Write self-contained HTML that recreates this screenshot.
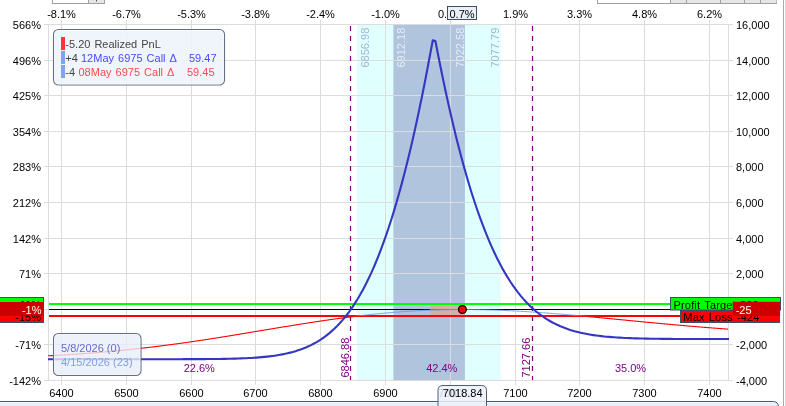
<!DOCTYPE html>
<html><head><meta charset="utf-8"><style>
html,body{margin:0;padding:0;background:#fff;}
body{width:786px;height:406px;overflow:hidden;position:relative;}
svg{position:absolute;left:0;top:0;will-change:transform;}
text{font-family:"Liberation Sans", sans-serif;font-size:11px;}
</style></head><body>
<svg width="786" height="406" viewBox="0 0 786 406">
<defs>
<clipPath id="plot"><rect x="48" y="24" width="681" height="357"/></clipPath>
<clipPath id="above"><rect x="48" y="0" width="681" height="316.3"/></clipPath>
<clipPath id="below"><rect x="48" y="316.3" width="681" height="100"/></clipPath>
</defs>
<rect x="0" y="0" width="786" height="406" fill="#fff"/>

<rect x="52.5" y="-4.5" width="52" height="8" fill="#fff" stroke="#a0a0a0" stroke-width="1"/>
<rect x="89" y="-4" width="15" height="7" fill="#e6e6e6"/>
<line x1="88.5" y1="-4" x2="88.5" y2="3" stroke="#a0a0a0"/>
<rect x="96" y="0" width="1" height="1.5" fill="#555"/>
<rect x="597.5" y="-4.5" width="179" height="8" fill="#fff" stroke="#a0a0a0" stroke-width="1"/>
<rect x="670.5" y="-4" width="16.0" height="7" fill="#e6e6e6"/>
<line x1="670.5" y1="-4" x2="670.5" y2="3" stroke="#a0a0a0"/>
<rect x="686.5" y="-4" width="34.0" height="7" fill="#e6e6e6"/>
<line x1="686.5" y1="-4" x2="686.5" y2="3" stroke="#a0a0a0"/>
<rect x="720.5" y="-4" width="24.0" height="7" fill="#e6e6e6"/>
<line x1="720.5" y1="-4" x2="720.5" y2="3" stroke="#a0a0a0"/>
<rect x="744.5" y="-4" width="16.0" height="7" fill="#e6e6e6"/>
<line x1="744.5" y1="-4" x2="744.5" y2="3" stroke="#a0a0a0"/>
<rect x="760.5" y="-4" width="16.0" height="7" fill="#e6e6e6"/>
<line x1="760.5" y1="-4" x2="760.5" y2="3" stroke="#a0a0a0"/>
<rect x="783" y="0" width="1" height="406" fill="#aaaaaa"/>
<rect x="785" y="0" width="1" height="406" fill="#d8d8d8"/>
<rect x="357" y="24" width="143.7" height="356.5" fill="#e0ffff"/>
<rect x="393.4" y="24" width="71.5" height="356.5" fill="#b0c4de"/>
<line x1="44" y1="24.5" x2="733" y2="24.5" stroke="#dcdcdc"/>
<line x1="44" y1="60.5" x2="733" y2="60.5" stroke="#dcdcdc"/>
<line x1="44" y1="95.5" x2="733" y2="95.5" stroke="#dcdcdc"/>
<line x1="44" y1="131.5" x2="733" y2="131.5" stroke="#dcdcdc"/>
<line x1="44" y1="166.5" x2="733" y2="166.5" stroke="#dcdcdc"/>
<line x1="44" y1="202.5" x2="733" y2="202.5" stroke="#dcdcdc"/>
<line x1="44" y1="238.5" x2="733" y2="238.5" stroke="#dcdcdc"/>
<line x1="44" y1="273.5" x2="733" y2="273.5" stroke="#dcdcdc"/>
<line x1="44" y1="309.5" x2="733" y2="309.5" stroke="#dcdcdc"/>
<line x1="44" y1="344.5" x2="733" y2="344.5" stroke="#dcdcdc"/>
<line x1="44" y1="380.5" x2="733" y2="380.5" stroke="#dcdcdc"/>
<line x1="61.5" y1="20" x2="61.5" y2="385" stroke="#dcdcdc"/>
<line x1="126.5" y1="20" x2="126.5" y2="385" stroke="#dcdcdc"/>
<line x1="191.5" y1="20" x2="191.5" y2="385" stroke="#dcdcdc"/>
<line x1="255.5" y1="20" x2="255.5" y2="385" stroke="#dcdcdc"/>
<line x1="320.5" y1="20" x2="320.5" y2="385" stroke="#dcdcdc"/>
<line x1="385.5" y1="20" x2="385.5" y2="385" stroke="#dcdcdc"/>
<line x1="450.5" y1="20" x2="450.5" y2="385" stroke="#dcdcdc"/>
<line x1="515.5" y1="20" x2="515.5" y2="385" stroke="#dcdcdc"/>
<line x1="579.5" y1="20" x2="579.5" y2="385" stroke="#dcdcdc"/>
<line x1="644.5" y1="20" x2="644.5" y2="385" stroke="#dcdcdc"/>
<line x1="709.5" y1="20" x2="709.5" y2="385" stroke="#dcdcdc"/>
<line x1="48.5" y1="24" x2="48.5" y2="381" stroke="#dcdcdc"/>
<line x1="728.5" y1="24" x2="728.5" y2="381" stroke="#dcdcdc"/>
<text transform="translate(368.8,67.5) rotate(-90)" fill="#a4b4d2" text-anchor="start">6856.98</text>
<text transform="translate(404.9,67.5) rotate(-90)" fill="#e4ecf6" text-anchor="start">6912.18</text>
<text transform="translate(463.8,67.5) rotate(-90)" fill="#e4ecf6" text-anchor="start">7022.58</text>
<text transform="translate(499.3,67.5) rotate(-90)" fill="#a4b4d2" text-anchor="start">7077.79</text>
<line x1="350.5" y1="24" x2="350.5" y2="380" stroke="#800080" stroke-width="1.25" stroke-dasharray="5,5" stroke-dashoffset="-2"/>
<line x1="532.5" y1="24" x2="532.5" y2="380" stroke="#800080" stroke-width="1.25" stroke-dasharray="5,5" stroke-dashoffset="-2"/>
<text transform="translate(349,377.5) rotate(-90)" fill="#800080" text-anchor="start">6846.88</text>
<text transform="translate(529.6,377.5) rotate(-90)" fill="#800080" text-anchor="start">7127.66</text>
<line x1="49" y1="309.5" x2="728" y2="309.5" stroke="#000" stroke-width="1"/>
<rect x="430.3" y="305" width="32.1" height="10" fill="#efa17c" fill-opacity="0.6"/>
<line x1="49" y1="304" x2="728" y2="304" stroke="#00ff00" stroke-width="2"/>
<line x1="49" y1="316" x2="728" y2="316" stroke="#ff0000" stroke-width="2"/>
<g clip-path="url(#plot)"><path d="M48.00,355.82 L48.50,355.79 L49.00,355.76 L49.50,355.74 L50.00,355.71 L50.50,355.69 L51.00,355.66 L51.50,355.63 L52.00,355.61 L52.50,355.58 L53.00,355.55 L53.50,355.52 L54.00,355.50 L54.50,355.47 L55.00,355.44 L55.50,355.41 L56.00,355.39 L56.50,355.36 L57.00,355.33 L57.50,355.30 L58.00,355.27 L58.50,355.24 L59.00,355.22 L59.50,355.19 L60.00,355.16 L60.50,355.13 L61.00,355.10 L61.50,355.07 L62.00,355.04 L62.50,355.01 L63.00,354.98 L63.50,354.95 L64.00,354.92 L64.50,354.89 L65.00,354.86 L65.50,354.83 L66.00,354.80 L66.50,354.77 L67.00,354.74 L67.50,354.70 L68.00,354.67 L68.50,354.64 L69.00,354.61 L69.50,354.58 L70.00,354.55 L70.50,354.51 L71.00,354.48 L71.50,354.45 L72.00,354.42 L72.50,354.38 L73.00,354.35 L73.50,354.32 L74.00,354.28 L74.50,354.25 L75.00,354.22 L75.50,354.18 L76.00,354.15 L76.50,354.11 L77.00,354.08 L77.50,354.05 L78.00,354.01 L78.50,353.98 L79.00,353.94 L79.50,353.91 L80.00,353.87 L80.50,353.84 L81.00,353.80 L81.50,353.77 L82.00,353.73 L82.50,353.69 L83.00,353.66 L83.50,353.62 L84.00,353.58 L84.50,353.55 L85.00,353.51 L85.50,353.47 L86.00,353.44 L86.50,353.40 L87.00,353.36 L87.50,353.32 L88.00,353.29 L88.50,353.25 L89.00,353.21 L89.50,353.17 L90.00,353.13 L90.50,353.10 L91.00,353.06 L91.50,353.02 L92.00,352.98 L92.50,352.94 L93.00,352.90 L93.50,352.86 L94.00,352.82 L94.50,352.78 L95.00,352.74 L95.50,352.70 L96.00,352.66 L96.50,352.62 L97.00,352.58 L97.50,352.54 L98.00,352.50 L98.50,352.45 L99.00,352.41 L99.50,352.37 L100.00,352.33 L100.50,352.29 L101.00,352.24 L101.50,352.20 L102.00,352.16 L102.50,352.12 L103.00,352.07 L103.50,352.03 L104.00,351.99 L104.50,351.94 L105.00,351.90 L105.50,351.86 L106.00,351.81 L106.50,351.77 L107.00,351.72 L107.50,351.68 L108.00,351.64 L108.50,351.59 L109.00,351.55 L109.50,351.50 L110.00,351.46 L110.50,351.41 L111.00,351.36 L111.50,351.32 L112.00,351.27 L112.50,351.23 L113.00,351.18 L113.50,351.13 L114.00,351.09 L114.50,351.04 L115.00,350.99 L115.50,350.94 L116.00,350.90 L116.50,350.85 L117.00,350.80 L117.50,350.75 L118.00,350.71 L118.50,350.66 L119.00,350.61 L119.50,350.56 L120.00,350.51 L120.50,350.46 L121.00,350.41 L121.50,350.36 L122.00,350.31 L122.50,350.26 L123.00,350.21 L123.50,350.16 L124.00,350.11 L124.50,350.06 L125.00,350.01 L125.50,349.96 L126.00,349.91 L126.50,349.86 L127.00,349.81 L127.50,349.76 L128.00,349.70 L128.50,349.65 L129.00,349.60 L129.50,349.55 L130.00,349.50 L130.50,349.44 L131.00,349.39 L131.50,349.34 L132.00,349.28 L132.50,349.23 L133.00,349.18 L133.50,349.12 L134.00,349.07 L134.50,349.02 L135.00,348.96 L135.50,348.91 L136.00,348.85 L136.50,348.80 L137.00,348.74 L137.50,348.69 L138.00,348.63 L138.50,348.58 L139.00,348.52 L139.50,348.47 L140.00,348.41 L140.50,348.35 L141.00,348.30 L141.50,348.24 L142.00,348.18 L142.50,348.13 L143.00,348.07 L143.50,348.01 L144.00,347.96 L144.50,347.90 L145.00,347.84 L145.50,347.78 L146.00,347.72 L146.50,347.67 L147.00,347.61 L147.50,347.55 L148.00,347.49 L148.50,347.43 L149.00,347.37 L149.50,347.31 L150.00,347.25 L150.50,347.19 L151.00,347.13 L151.50,347.07 L152.00,347.01 L152.50,346.95 L153.00,346.89 L153.50,346.83 L154.00,346.77 L154.50,346.71 L155.00,346.65 L155.50,346.59 L156.00,346.53 L156.50,346.46 L157.00,346.40 L157.50,346.34 L158.00,346.28 L158.50,346.22 L159.00,346.15 L159.50,346.09 L160.00,346.03 L160.50,345.96 L161.00,345.90 L161.50,345.84 L162.00,345.77 L162.50,345.71 L163.00,345.65 L163.50,345.58 L164.00,345.52 L164.50,345.45 L165.00,345.39 L165.50,345.32 L166.00,345.26 L166.50,345.19 L167.00,345.13 L167.50,345.06 L168.00,345.00 L168.50,344.93 L169.00,344.87 L169.50,344.80 L170.00,344.73 L170.50,344.67 L171.00,344.60 L171.50,344.53 L172.00,344.47 L172.50,344.40 L173.00,344.33 L173.50,344.26 L174.00,344.20 L174.50,344.13 L175.00,344.06 L175.50,343.99 L176.00,343.93 L176.50,343.86 L177.00,343.79 L177.50,343.72 L178.00,343.65 L178.50,343.58 L179.00,343.51 L179.50,343.44 L180.00,343.37 L180.50,343.30 L181.00,343.24 L181.50,343.17 L182.00,343.10 L182.50,343.03 L183.00,342.95 L183.50,342.88 L184.00,342.81 L184.50,342.74 L185.00,342.67 L185.50,342.60 L186.00,342.53 L186.50,342.46 L187.00,342.39 L187.50,342.32 L188.00,342.24 L188.50,342.17 L189.00,342.10 L189.50,342.03 L190.00,341.96 L190.50,341.88 L191.00,341.81 L191.50,341.74 L192.00,341.66 L192.50,341.59 L193.00,341.52 L193.50,341.45 L194.00,341.37 L194.50,341.30 L195.00,341.22 L195.50,341.15 L196.00,341.08 L196.50,341.00 L197.00,340.93 L197.50,340.85 L198.00,340.78 L198.50,340.70 L199.00,340.63 L199.50,340.56 L200.00,340.48 L200.50,340.40 L201.00,340.33 L201.50,340.25 L202.00,340.18 L202.50,340.10 L203.00,340.03 L203.50,339.95 L204.00,339.88 L204.50,339.80 L205.00,339.72 L205.50,339.65 L206.00,339.57 L206.50,339.49 L207.00,339.42 L207.50,339.34 L208.00,339.26 L208.50,339.19 L209.00,339.11 L209.50,339.03 L210.00,338.95 L210.50,338.88 L211.00,338.80 L211.50,338.72 L212.00,338.64 L212.50,338.57 L213.00,338.49 L213.50,338.41 L214.00,338.33 L214.50,338.25 L215.00,338.17 L215.50,338.10 L216.00,338.02 L216.50,337.94 L217.00,337.86 L217.50,337.78 L218.00,337.70 L218.50,337.62 L219.00,337.54 L219.50,337.46 L220.00,337.38 L220.50,337.30 L221.00,337.23 L221.50,337.15 L222.00,337.07 L222.50,336.99 L223.00,336.91 L223.50,336.83 L224.00,336.75 L224.50,336.67 L225.00,336.58 L225.50,336.50 L226.00,336.42 L226.50,336.34 L227.00,336.26 L227.50,336.18 L228.00,336.10 L228.50,336.02 L229.00,335.94 L229.50,335.86 L230.00,335.78 L230.50,335.70 L231.00,335.61 L231.50,335.53 L232.00,335.45 L232.50,335.37 L233.00,335.29 L233.50,335.21 L234.00,335.13 L234.50,335.04 L235.00,334.96 L235.50,334.88 L236.00,334.80 L236.50,334.72 L237.00,334.63 L237.50,334.55 L238.00,334.47 L238.50,334.39 L239.00,334.31 L239.50,334.22 L240.00,334.14 L240.50,334.06 L241.00,333.98 L241.50,333.89 L242.00,333.81 L242.50,333.73 L243.00,333.65 L243.50,333.56 L244.00,333.48 L244.50,333.40 L245.00,333.31 L245.50,333.23 L246.00,333.15 L246.50,333.07 L247.00,332.98 L247.50,332.90 L248.00,332.82 L248.50,332.73 L249.00,332.65 L249.50,332.57 L250.00,332.48 L250.50,332.40 L251.00,332.32 L251.50,332.23 L252.00,332.15 L252.50,332.07 L253.00,331.98 L253.50,331.90 L254.00,331.82 L254.50,331.73 L255.00,331.65 L255.50,331.57 L256.00,331.48 L256.50,331.40 L257.00,331.32 L257.50,331.23 L258.00,331.15 L258.50,331.07 L259.00,330.98 L259.50,330.90 L260.00,330.82 L260.50,330.73 L261.00,330.65 L261.50,330.57 L262.00,330.48 L262.50,330.40 L263.00,330.32 L263.50,330.23 L264.00,330.15 L264.50,330.06 L265.00,329.98 L265.50,329.90 L266.00,329.81 L266.50,329.73 L267.00,329.65 L267.50,329.56 L268.00,329.48 L268.50,329.40 L269.00,329.31 L269.50,329.23 L270.00,329.15 L270.50,329.06 L271.00,328.98 L271.50,328.90 L272.00,328.81 L272.50,328.73 L273.00,328.65 L273.50,328.56 L274.00,328.48 L274.50,328.40 L275.00,328.31 L275.50,328.23 L276.00,328.15 L276.50,328.07 L277.00,327.98 L277.50,327.90 L278.00,327.82 L278.50,327.73 L279.00,327.65 L279.50,327.57 L280.00,327.49 L280.50,327.40 L281.00,327.32 L281.50,327.24 L282.00,327.16 L282.50,327.07 L283.00,326.99 L283.50,326.91 L284.00,326.83 L284.50,326.74 L285.00,326.66 L285.50,326.58 L286.00,326.50 L286.50,326.42 L287.00,326.33 L287.50,326.25 L288.00,326.17 L288.50,326.09 L289.00,326.01 L289.50,325.92 L290.00,325.84 L290.50,325.76 L291.00,325.68 L291.50,325.60 L292.00,325.52 L292.50,325.44 L293.00,325.36 L293.50,325.27 L294.00,325.19 L294.50,325.11 L295.00,325.03 L295.50,324.95 L296.00,324.87 L296.50,324.79 L297.00,324.71 L297.50,324.63 L298.00,324.55 L298.50,324.47 L299.00,324.39 L299.50,324.31 L300.00,324.23 L300.50,324.15 L301.00,324.07 L301.50,323.99 L302.00,323.91 L302.50,323.83 L303.00,323.75 L303.50,323.67 L304.00,323.60 L304.50,323.52 L305.00,323.44 L305.50,323.36 L306.00,323.28 L306.50,323.20 L307.00,323.12 L307.50,323.05 L308.00,322.97 L308.50,322.89 L309.00,322.81 L309.50,322.73 L310.00,322.66 L310.50,322.58 L311.00,322.50 L311.50,322.42 L312.00,322.35 L312.50,322.27 L313.00,322.19 L313.50,322.12 L314.00,322.04 L314.50,321.96 L315.00,321.89 L315.50,321.81 L316.00,321.74 L316.50,321.66 L317.00,321.58 L317.50,321.51 L318.00,321.43 L318.50,321.36 L319.00,321.28 L319.50,321.21 L320.00,321.13 L320.50,321.06 L321.00,320.98 L321.50,320.91 L322.00,320.84 L322.50,320.76 L323.00,320.69 L323.50,320.61 L324.00,320.54 L324.50,320.47 L325.00,320.39 L325.50,320.32 L326.00,320.25 L326.50,320.18 L327.00,320.10 L327.50,320.03 L328.00,319.96 L328.50,319.89 L329.00,319.81 L329.50,319.74 L330.00,319.67 L330.50,319.60 L331.00,319.53 L331.50,319.46 L332.00,319.39 L332.50,319.32 L333.00,319.25 L333.50,319.17 L334.00,319.10 L334.50,319.03 L335.00,318.97 L335.50,318.90 L336.00,318.83 L336.50,318.76 L337.00,318.69 L337.50,318.62 L338.00,318.55 L338.50,318.48 L339.00,318.41 L339.50,318.35 L340.00,318.28 L340.50,318.21 L341.00,318.14 L341.50,318.08 L342.00,318.01 L342.50,317.94 L343.00,317.88 L343.50,317.81 L344.00,317.74 L344.50,317.68 L345.00,317.61 L345.50,317.55 L346.00,317.48 L346.50,317.41 L347.00,317.35 L347.50,317.28 L348.00,317.22 L348.50,317.16 L349.00,317.09 L349.50,317.03 L350.00,316.96 L350.50,316.90 L351.00,316.84 L351.50,316.77 L352.00,316.71 L352.50,316.65 L353.00,316.59 L353.50,316.53 L354.00,316.46 L354.50,316.40 L355.00,316.34 L355.50,316.28 L356.00,316.22 L356.50,316.16 L357.00,316.10 L357.50,316.04 L358.00,315.98 L358.50,315.92 L359.00,315.86 L359.50,315.80 L360.00,315.74 L360.50,315.68 L361.00,315.62 L361.50,315.56 L362.00,315.50 L362.50,315.45 L363.00,315.39 L363.50,315.33 L364.00,315.27 L364.50,315.22 L365.00,315.16 L365.50,315.10 L366.00,315.05 L366.50,314.99 L367.00,314.94 L367.50,314.88 L368.00,314.83 L368.50,314.77 L369.00,314.72 L369.50,314.66 L370.00,314.61 L370.50,314.55 L371.00,314.50 L371.50,314.45 L372.00,314.39 L372.50,314.34 L373.00,314.29 L373.50,314.24 L374.00,314.18 L374.50,314.13 L375.00,314.08 L375.50,314.03 L376.00,313.98 L376.50,313.93 L377.00,313.88 L377.50,313.83 L378.00,313.78 L378.50,313.73 L379.00,313.68 L379.50,313.63 L380.00,313.58 L380.50,313.53 L381.00,313.48 L381.50,313.43 L382.00,313.39 L382.50,313.34 L383.00,313.29 L383.50,313.25 L384.00,313.20 L384.50,313.15 L385.00,313.11 L385.50,313.06 L386.00,313.01 L386.50,312.97 L387.00,312.92 L387.50,312.88 L388.00,312.83 L388.50,312.79 L389.00,312.75 L389.50,312.70 L390.00,312.66 L390.50,312.62 L391.00,312.57 L391.50,312.53 L392.00,312.49 L392.50,312.45 L393.00,312.41 L393.50,312.36 L394.00,312.32 L394.50,312.28 L395.00,312.24 L395.50,312.20 L396.00,312.16 L396.50,312.12 L397.00,312.08 L397.50,312.04 L398.00,312.00 L398.50,311.97 L399.00,311.93 L399.50,311.89 L400.00,311.85 L400.50,311.82 L401.00,311.78 L401.50,311.74 L402.00,311.71 L402.50,311.67 L403.00,311.63 L403.50,311.60 L404.00,311.56 L404.50,311.53 L405.00,311.49 L405.50,311.46 L406.00,311.42 L406.50,311.39 L407.00,311.36 L407.50,311.32 L408.00,311.29 L408.50,311.26 L409.00,311.23 L409.50,311.19 L410.00,311.16 L410.50,311.13 L411.00,311.10 L411.50,311.07 L412.00,311.04 L412.50,311.01 L413.00,310.98 L413.50,310.95 L414.00,310.92 L414.50,310.89 L415.00,310.86 L415.50,310.83 L416.00,310.81 L416.50,310.78 L417.00,310.75 L417.50,310.72 L418.00,310.70 L418.50,310.67 L419.00,310.64 L419.50,310.62 L420.00,310.59 L420.50,310.57 L421.00,310.54 L421.50,310.52 L422.00,310.49 L422.50,310.47 L423.00,310.44 L423.50,310.42 L424.00,310.40 L424.50,310.37 L425.00,310.35 L425.50,310.33 L426.00,310.31 L426.50,310.29 L427.00,310.26 L427.50,310.24 L428.00,310.22 L428.50,310.20 L429.00,310.18 L429.50,310.16 L430.00,310.14 L430.50,310.12 L431.00,310.10 L431.50,310.08 L432.00,310.07 L432.50,310.05 L433.00,310.03 L433.50,310.01 L434.00,310.00 L434.50,309.98 L435.00,309.96 L435.50,309.95 L436.00,309.93 L436.50,309.91 L437.00,309.90 L437.50,309.88 L438.00,309.87 L438.50,309.85 L439.00,309.84 L439.50,309.83 L440.00,309.81 L440.50,309.80 L441.00,309.79 L441.50,309.77 L442.00,309.76 L442.50,309.75 L443.00,309.74 L443.50,309.73 L444.00,309.72 L444.50,309.70 L445.00,309.69 L445.50,309.68 L446.00,309.67 L446.50,309.66 L447.00,309.65 L447.50,309.65 L448.00,309.64 L448.50,309.63 L449.00,309.62 L449.50,309.61 L450.00,309.61 L450.50,309.60 L451.00,309.59 L451.50,309.58 L452.00,309.58 L452.50,309.57 L453.00,309.57 L453.50,309.56 L454.00,309.56 L454.50,309.55 L455.00,309.55 L455.50,309.54 L456.00,309.54 L456.50,309.53 L457.00,309.53 L457.50,309.53 L458.00,309.52 L458.50,309.52 L459.00,309.52 L459.50,309.52 L460.00,309.52 L460.50,309.51 L461.00,309.51 L461.50,309.51 L462.00,309.51 L462.50,309.51 L463.00,309.51 L463.50,309.51 L464.00,309.51 L464.50,309.51 L465.00,309.51 L465.50,309.52 L466.00,309.52 L466.50,309.52 L467.00,309.52 L467.50,309.52 L468.00,309.53 L468.50,309.53 L469.00,309.53 L469.50,309.54 L470.00,309.54 L470.50,309.55 L471.00,309.55 L471.50,309.56 L472.00,309.56 L472.50,309.57 L473.00,309.57 L473.50,309.58 L474.00,309.58 L474.50,309.59 L475.00,309.60 L475.50,309.60 L476.00,309.61 L476.50,309.62 L477.00,309.63 L477.50,309.64 L478.00,309.64 L478.50,309.65 L479.00,309.66 L479.50,309.67 L480.00,309.68 L480.50,309.69 L481.00,309.70 L481.50,309.71 L482.00,309.72 L482.50,309.73 L483.00,309.74 L483.50,309.75 L484.00,309.77 L484.50,309.78 L485.00,309.79 L485.50,309.80 L486.00,309.81 L486.50,309.83 L487.00,309.84 L487.50,309.85 L488.00,309.87 L488.50,309.88 L489.00,309.90 L489.50,309.91 L490.00,309.92 L490.50,309.94 L491.00,309.95 L491.50,309.97 L492.00,309.99 L492.50,310.00 L493.00,310.02 L493.50,310.03 L494.00,310.05 L494.50,310.07 L495.00,310.09 L495.50,310.10 L496.00,310.12 L496.50,310.14 L497.00,310.16 L497.50,310.18 L498.00,310.19 L498.50,310.21 L499.00,310.23 L499.50,310.25 L500.00,310.27 L500.50,310.29 L501.00,310.31 L501.50,310.33 L502.00,310.35 L502.50,310.37 L503.00,310.39 L503.50,310.42 L504.00,310.44 L504.50,310.46 L505.00,310.48 L505.50,310.50 L506.00,310.52 L506.50,310.55 L507.00,310.57 L507.50,310.59 L508.00,310.62 L508.50,310.64 L509.00,310.66 L509.50,310.69 L510.00,310.71 L510.50,310.74 L511.00,310.76 L511.50,310.79 L512.00,310.81 L512.50,310.84 L513.00,310.86 L513.50,310.89 L514.00,310.91 L514.50,310.94 L515.00,310.97 L515.50,310.99 L516.00,311.02 L516.50,311.05 L517.00,311.07 L517.50,311.10 L518.00,311.13 L518.50,311.16 L519.00,311.18 L519.50,311.21 L520.00,311.24 L520.50,311.27 L521.00,311.30 L521.50,311.33 L522.00,311.36 L522.50,311.39 L523.00,311.42 L523.50,311.45 L524.00,311.48 L524.50,311.51 L525.00,311.54 L525.50,311.57 L526.00,311.60 L526.50,311.63 L527.00,311.66 L527.50,311.69 L528.00,311.72 L528.50,311.75 L529.00,311.79 L529.50,311.82 L530.00,311.85 L530.50,311.88 L531.00,311.92 L531.50,311.95 L532.00,311.98 L532.50,312.02 L533.00,312.05 L533.50,312.08 L534.00,312.12 L534.50,312.15 L535.00,312.18 L535.50,312.22 L536.00,312.25 L536.50,312.29 L537.00,312.32 L537.50,312.36 L538.00,312.39 L538.50,312.43 L539.00,312.46 L539.50,312.50 L540.00,312.53 L540.50,312.57 L541.00,312.61 L541.50,312.64 L542.00,312.68 L542.50,312.71 L543.00,312.75 L543.50,312.79 L544.00,312.83 L544.50,312.86 L545.00,312.90 L545.50,312.94 L546.00,312.97 L546.50,313.01 L547.00,313.05 L547.50,313.09 L548.00,313.13 L548.50,313.16 L549.00,313.20 L549.50,313.24 L550.00,313.28 L550.50,313.32 L551.00,313.36 L551.50,313.40 L552.00,313.44 L552.50,313.48 L553.00,313.52 L553.50,313.56 L554.00,313.60 L554.50,313.64 L555.00,313.68 L555.50,313.72 L556.00,313.76 L556.50,313.80 L557.00,313.84 L557.50,313.88 L558.00,313.92 L558.50,313.96 L559.00,314.00 L559.50,314.04 L560.00,314.08 L560.50,314.13 L561.00,314.17 L561.50,314.21 L562.00,314.25 L562.50,314.29 L563.00,314.33 L563.50,314.38 L564.00,314.42 L564.50,314.46 L565.00,314.50 L565.50,314.55 L566.00,314.59 L566.50,314.63 L567.00,314.67 L567.50,314.72 L568.00,314.76 L568.50,314.80 L569.00,314.85 L569.50,314.89 L570.00,314.93 L570.50,314.98 L571.00,315.02 L571.50,315.07 L572.00,315.11 L572.50,315.15 L573.00,315.20 L573.50,315.24 L574.00,315.29 L574.50,315.33 L575.00,315.38 L575.50,315.42 L576.00,315.46 L576.50,315.51 L577.00,315.55 L577.50,315.60 L578.00,315.64 L578.50,315.69 L579.00,315.73 L579.50,315.78 L580.00,315.83 L580.50,315.87 L581.00,315.92 L581.50,315.96 L582.00,316.01 L582.50,316.05 L583.00,316.10 L583.50,316.14 L584.00,316.19 L584.50,316.24 L585.00,316.28 L585.50,316.33 L586.00,316.38 L586.50,316.42 L587.00,316.47 L587.50,316.51 L588.00,316.56 L588.50,316.61 L589.00,316.65 L589.50,316.70 L590.00,316.75 L590.50,316.79 L591.00,316.84 L591.50,316.89 L592.00,316.93 L592.50,316.98 L593.00,317.03 L593.50,317.08 L594.00,317.12 L594.50,317.17 L595.00,317.22 L595.50,317.26 L596.00,317.31 L596.50,317.36 L597.00,317.41 L597.50,317.45 L598.00,317.50 L598.50,317.55 L599.00,317.60 L599.50,317.65 L600.00,317.69 L600.50,317.74 L601.00,317.79 L601.50,317.84 L602.00,317.88 L602.50,317.93 L603.00,317.98 L603.50,318.03 L604.00,318.08 L604.50,318.12 L605.00,318.17 L605.50,318.22 L606.00,318.27 L606.50,318.32 L607.00,318.36 L607.50,318.41 L608.00,318.46 L608.50,318.51 L609.00,318.56 L609.50,318.61 L610.00,318.65 L610.50,318.70 L611.00,318.75 L611.50,318.80 L612.00,318.85 L612.50,318.90 L613.00,318.94 L613.50,318.99 L614.00,319.04 L614.50,319.09 L615.00,319.14 L615.50,319.19 L616.00,319.24 L616.50,319.28 L617.00,319.33 L617.50,319.38 L618.00,319.43 L618.50,319.48 L619.00,319.53 L619.50,319.58 L620.00,319.62 L620.50,319.67 L621.00,319.72 L621.50,319.77 L622.00,319.82 L622.50,319.87 L623.00,319.92 L623.50,319.96 L624.00,320.01 L624.50,320.06 L625.00,320.11 L625.50,320.16 L626.00,320.21 L626.50,320.26 L627.00,320.30 L627.50,320.35 L628.00,320.40 L628.50,320.45 L629.00,320.50 L629.50,320.55 L630.00,320.60 L630.50,320.64 L631.00,320.69 L631.50,320.74 L632.00,320.79 L632.50,320.84 L633.00,320.89 L633.50,320.93 L634.00,320.98 L634.50,321.03 L635.00,321.08 L635.50,321.13 L636.00,321.18 L636.50,321.22 L637.00,321.27 L637.50,321.32 L638.00,321.37 L638.50,321.42 L639.00,321.47 L639.50,321.51 L640.00,321.56 L640.50,321.61 L641.00,321.66 L641.50,321.71 L642.00,321.75 L642.50,321.80 L643.00,321.85 L643.50,321.90 L644.00,321.95 L644.50,321.99 L645.00,322.04 L645.50,322.09 L646.00,322.14 L646.50,322.18 L647.00,322.23 L647.50,322.28 L648.00,322.33 L648.50,322.38 L649.00,322.42 L649.50,322.47 L650.00,322.52 L650.50,322.57 L651.00,322.61 L651.50,322.66 L652.00,322.71 L652.50,322.75 L653.00,322.80 L653.50,322.85 L654.00,322.90 L654.50,322.94 L655.00,322.99 L655.50,323.04 L656.00,323.08 L656.50,323.13 L657.00,323.18 L657.50,323.23 L658.00,323.27 L658.50,323.32 L659.00,323.37 L659.50,323.41 L660.00,323.46 L660.50,323.50 L661.00,323.55 L661.50,323.60 L662.00,323.64 L662.50,323.69 L663.00,323.74 L663.50,323.78 L664.00,323.83 L664.50,323.88 L665.00,323.92 L665.50,323.97 L666.00,324.01 L666.50,324.06 L667.00,324.10 L667.50,324.15 L668.00,324.20 L668.50,324.24 L669.00,324.29 L669.50,324.33 L670.00,324.38 L670.50,324.42 L671.00,324.47 L671.50,324.51 L672.00,324.56 L672.50,324.60 L673.00,324.65 L673.50,324.69 L674.00,324.74 L674.50,324.78 L675.00,324.83 L675.50,324.87 L676.00,324.92 L676.50,324.96 L677.00,325.01 L677.50,325.05 L678.00,325.10 L678.50,325.14 L679.00,325.19 L679.50,325.23 L680.00,325.27 L680.50,325.32 L681.00,325.36 L681.50,325.41 L682.00,325.45 L682.50,325.49 L683.00,325.54 L683.50,325.58 L684.00,325.62 L684.50,325.67 L685.00,325.71 L685.50,325.75 L686.00,325.80 L686.50,325.84 L687.00,325.88 L687.50,325.93 L688.00,325.97 L688.50,326.01 L689.00,326.06 L689.50,326.10 L690.00,326.14 L690.50,326.18 L691.00,326.23 L691.50,326.27 L692.00,326.31 L692.50,326.35 L693.00,326.39 L693.50,326.44 L694.00,326.48 L694.50,326.52 L695.00,326.56 L695.50,326.60 L696.00,326.65 L696.50,326.69 L697.00,326.73 L697.50,326.77 L698.00,326.81 L698.50,326.85 L699.00,326.89 L699.50,326.94 L700.00,326.98 L700.50,327.02 L701.00,327.06 L701.50,327.10 L702.00,327.14 L702.50,327.18 L703.00,327.22 L703.50,327.26 L704.00,327.30 L704.50,327.34 L705.00,327.38 L705.50,327.42 L706.00,327.46 L706.50,327.50 L707.00,327.54 L707.50,327.58 L708.00,327.62 L708.50,327.66 L709.00,327.70 L709.50,327.74 L710.00,327.78 L710.50,327.82 L711.00,327.86 L711.50,327.90 L712.00,327.93 L712.50,327.97 L713.00,328.01 L713.50,328.05 L714.00,328.09 L714.50,328.13 L715.00,328.17 L715.50,328.20 L716.00,328.24 L716.50,328.28 L717.00,328.32 L717.50,328.36 L718.00,328.39 L718.50,328.43 L719.00,328.47 L719.50,328.51 L720.00,328.54 L720.50,328.58 L721.00,328.62 L721.50,328.66 L722.00,328.69 L722.50,328.73 L723.00,328.77 L723.50,328.80 L724.00,328.84 L724.50,328.88 L725.00,328.91 L725.50,328.95 L726.00,328.99 L726.50,329.02 L727.00,329.06 L727.50,329.09 L728.00,329.13" fill="none" stroke="#6495ed" stroke-opacity="0.75" stroke-width="1.1" clip-path="url(#above)"/></g>
<g clip-path="url(#plot)"><path d="M48.00,355.82 L48.50,355.79 L49.00,355.76 L49.50,355.74 L50.00,355.71 L50.50,355.69 L51.00,355.66 L51.50,355.63 L52.00,355.61 L52.50,355.58 L53.00,355.55 L53.50,355.52 L54.00,355.50 L54.50,355.47 L55.00,355.44 L55.50,355.41 L56.00,355.39 L56.50,355.36 L57.00,355.33 L57.50,355.30 L58.00,355.27 L58.50,355.24 L59.00,355.22 L59.50,355.19 L60.00,355.16 L60.50,355.13 L61.00,355.10 L61.50,355.07 L62.00,355.04 L62.50,355.01 L63.00,354.98 L63.50,354.95 L64.00,354.92 L64.50,354.89 L65.00,354.86 L65.50,354.83 L66.00,354.80 L66.50,354.77 L67.00,354.74 L67.50,354.70 L68.00,354.67 L68.50,354.64 L69.00,354.61 L69.50,354.58 L70.00,354.55 L70.50,354.51 L71.00,354.48 L71.50,354.45 L72.00,354.42 L72.50,354.38 L73.00,354.35 L73.50,354.32 L74.00,354.28 L74.50,354.25 L75.00,354.22 L75.50,354.18 L76.00,354.15 L76.50,354.11 L77.00,354.08 L77.50,354.05 L78.00,354.01 L78.50,353.98 L79.00,353.94 L79.50,353.91 L80.00,353.87 L80.50,353.84 L81.00,353.80 L81.50,353.77 L82.00,353.73 L82.50,353.69 L83.00,353.66 L83.50,353.62 L84.00,353.58 L84.50,353.55 L85.00,353.51 L85.50,353.47 L86.00,353.44 L86.50,353.40 L87.00,353.36 L87.50,353.32 L88.00,353.29 L88.50,353.25 L89.00,353.21 L89.50,353.17 L90.00,353.13 L90.50,353.10 L91.00,353.06 L91.50,353.02 L92.00,352.98 L92.50,352.94 L93.00,352.90 L93.50,352.86 L94.00,352.82 L94.50,352.78 L95.00,352.74 L95.50,352.70 L96.00,352.66 L96.50,352.62 L97.00,352.58 L97.50,352.54 L98.00,352.50 L98.50,352.45 L99.00,352.41 L99.50,352.37 L100.00,352.33 L100.50,352.29 L101.00,352.24 L101.50,352.20 L102.00,352.16 L102.50,352.12 L103.00,352.07 L103.50,352.03 L104.00,351.99 L104.50,351.94 L105.00,351.90 L105.50,351.86 L106.00,351.81 L106.50,351.77 L107.00,351.72 L107.50,351.68 L108.00,351.64 L108.50,351.59 L109.00,351.55 L109.50,351.50 L110.00,351.46 L110.50,351.41 L111.00,351.36 L111.50,351.32 L112.00,351.27 L112.50,351.23 L113.00,351.18 L113.50,351.13 L114.00,351.09 L114.50,351.04 L115.00,350.99 L115.50,350.94 L116.00,350.90 L116.50,350.85 L117.00,350.80 L117.50,350.75 L118.00,350.71 L118.50,350.66 L119.00,350.61 L119.50,350.56 L120.00,350.51 L120.50,350.46 L121.00,350.41 L121.50,350.36 L122.00,350.31 L122.50,350.26 L123.00,350.21 L123.50,350.16 L124.00,350.11 L124.50,350.06 L125.00,350.01 L125.50,349.96 L126.00,349.91 L126.50,349.86 L127.00,349.81 L127.50,349.76 L128.00,349.70 L128.50,349.65 L129.00,349.60 L129.50,349.55 L130.00,349.50 L130.50,349.44 L131.00,349.39 L131.50,349.34 L132.00,349.28 L132.50,349.23 L133.00,349.18 L133.50,349.12 L134.00,349.07 L134.50,349.02 L135.00,348.96 L135.50,348.91 L136.00,348.85 L136.50,348.80 L137.00,348.74 L137.50,348.69 L138.00,348.63 L138.50,348.58 L139.00,348.52 L139.50,348.47 L140.00,348.41 L140.50,348.35 L141.00,348.30 L141.50,348.24 L142.00,348.18 L142.50,348.13 L143.00,348.07 L143.50,348.01 L144.00,347.96 L144.50,347.90 L145.00,347.84 L145.50,347.78 L146.00,347.72 L146.50,347.67 L147.00,347.61 L147.50,347.55 L148.00,347.49 L148.50,347.43 L149.00,347.37 L149.50,347.31 L150.00,347.25 L150.50,347.19 L151.00,347.13 L151.50,347.07 L152.00,347.01 L152.50,346.95 L153.00,346.89 L153.50,346.83 L154.00,346.77 L154.50,346.71 L155.00,346.65 L155.50,346.59 L156.00,346.53 L156.50,346.46 L157.00,346.40 L157.50,346.34 L158.00,346.28 L158.50,346.22 L159.00,346.15 L159.50,346.09 L160.00,346.03 L160.50,345.96 L161.00,345.90 L161.50,345.84 L162.00,345.77 L162.50,345.71 L163.00,345.65 L163.50,345.58 L164.00,345.52 L164.50,345.45 L165.00,345.39 L165.50,345.32 L166.00,345.26 L166.50,345.19 L167.00,345.13 L167.50,345.06 L168.00,345.00 L168.50,344.93 L169.00,344.87 L169.50,344.80 L170.00,344.73 L170.50,344.67 L171.00,344.60 L171.50,344.53 L172.00,344.47 L172.50,344.40 L173.00,344.33 L173.50,344.26 L174.00,344.20 L174.50,344.13 L175.00,344.06 L175.50,343.99 L176.00,343.93 L176.50,343.86 L177.00,343.79 L177.50,343.72 L178.00,343.65 L178.50,343.58 L179.00,343.51 L179.50,343.44 L180.00,343.37 L180.50,343.30 L181.00,343.24 L181.50,343.17 L182.00,343.10 L182.50,343.03 L183.00,342.95 L183.50,342.88 L184.00,342.81 L184.50,342.74 L185.00,342.67 L185.50,342.60 L186.00,342.53 L186.50,342.46 L187.00,342.39 L187.50,342.32 L188.00,342.24 L188.50,342.17 L189.00,342.10 L189.50,342.03 L190.00,341.96 L190.50,341.88 L191.00,341.81 L191.50,341.74 L192.00,341.66 L192.50,341.59 L193.00,341.52 L193.50,341.45 L194.00,341.37 L194.50,341.30 L195.00,341.22 L195.50,341.15 L196.00,341.08 L196.50,341.00 L197.00,340.93 L197.50,340.85 L198.00,340.78 L198.50,340.70 L199.00,340.63 L199.50,340.56 L200.00,340.48 L200.50,340.40 L201.00,340.33 L201.50,340.25 L202.00,340.18 L202.50,340.10 L203.00,340.03 L203.50,339.95 L204.00,339.88 L204.50,339.80 L205.00,339.72 L205.50,339.65 L206.00,339.57 L206.50,339.49 L207.00,339.42 L207.50,339.34 L208.00,339.26 L208.50,339.19 L209.00,339.11 L209.50,339.03 L210.00,338.95 L210.50,338.88 L211.00,338.80 L211.50,338.72 L212.00,338.64 L212.50,338.57 L213.00,338.49 L213.50,338.41 L214.00,338.33 L214.50,338.25 L215.00,338.17 L215.50,338.10 L216.00,338.02 L216.50,337.94 L217.00,337.86 L217.50,337.78 L218.00,337.70 L218.50,337.62 L219.00,337.54 L219.50,337.46 L220.00,337.38 L220.50,337.30 L221.00,337.23 L221.50,337.15 L222.00,337.07 L222.50,336.99 L223.00,336.91 L223.50,336.83 L224.00,336.75 L224.50,336.67 L225.00,336.58 L225.50,336.50 L226.00,336.42 L226.50,336.34 L227.00,336.26 L227.50,336.18 L228.00,336.10 L228.50,336.02 L229.00,335.94 L229.50,335.86 L230.00,335.78 L230.50,335.70 L231.00,335.61 L231.50,335.53 L232.00,335.45 L232.50,335.37 L233.00,335.29 L233.50,335.21 L234.00,335.13 L234.50,335.04 L235.00,334.96 L235.50,334.88 L236.00,334.80 L236.50,334.72 L237.00,334.63 L237.50,334.55 L238.00,334.47 L238.50,334.39 L239.00,334.31 L239.50,334.22 L240.00,334.14 L240.50,334.06 L241.00,333.98 L241.50,333.89 L242.00,333.81 L242.50,333.73 L243.00,333.65 L243.50,333.56 L244.00,333.48 L244.50,333.40 L245.00,333.31 L245.50,333.23 L246.00,333.15 L246.50,333.07 L247.00,332.98 L247.50,332.90 L248.00,332.82 L248.50,332.73 L249.00,332.65 L249.50,332.57 L250.00,332.48 L250.50,332.40 L251.00,332.32 L251.50,332.23 L252.00,332.15 L252.50,332.07 L253.00,331.98 L253.50,331.90 L254.00,331.82 L254.50,331.73 L255.00,331.65 L255.50,331.57 L256.00,331.48 L256.50,331.40 L257.00,331.32 L257.50,331.23 L258.00,331.15 L258.50,331.07 L259.00,330.98 L259.50,330.90 L260.00,330.82 L260.50,330.73 L261.00,330.65 L261.50,330.57 L262.00,330.48 L262.50,330.40 L263.00,330.32 L263.50,330.23 L264.00,330.15 L264.50,330.06 L265.00,329.98 L265.50,329.90 L266.00,329.81 L266.50,329.73 L267.00,329.65 L267.50,329.56 L268.00,329.48 L268.50,329.40 L269.00,329.31 L269.50,329.23 L270.00,329.15 L270.50,329.06 L271.00,328.98 L271.50,328.90 L272.00,328.81 L272.50,328.73 L273.00,328.65 L273.50,328.56 L274.00,328.48 L274.50,328.40 L275.00,328.31 L275.50,328.23 L276.00,328.15 L276.50,328.07 L277.00,327.98 L277.50,327.90 L278.00,327.82 L278.50,327.73 L279.00,327.65 L279.50,327.57 L280.00,327.49 L280.50,327.40 L281.00,327.32 L281.50,327.24 L282.00,327.16 L282.50,327.07 L283.00,326.99 L283.50,326.91 L284.00,326.83 L284.50,326.74 L285.00,326.66 L285.50,326.58 L286.00,326.50 L286.50,326.42 L287.00,326.33 L287.50,326.25 L288.00,326.17 L288.50,326.09 L289.00,326.01 L289.50,325.92 L290.00,325.84 L290.50,325.76 L291.00,325.68 L291.50,325.60 L292.00,325.52 L292.50,325.44 L293.00,325.36 L293.50,325.27 L294.00,325.19 L294.50,325.11 L295.00,325.03 L295.50,324.95 L296.00,324.87 L296.50,324.79 L297.00,324.71 L297.50,324.63 L298.00,324.55 L298.50,324.47 L299.00,324.39 L299.50,324.31 L300.00,324.23 L300.50,324.15 L301.00,324.07 L301.50,323.99 L302.00,323.91 L302.50,323.83 L303.00,323.75 L303.50,323.67 L304.00,323.60 L304.50,323.52 L305.00,323.44 L305.50,323.36 L306.00,323.28 L306.50,323.20 L307.00,323.12 L307.50,323.05 L308.00,322.97 L308.50,322.89 L309.00,322.81 L309.50,322.73 L310.00,322.66 L310.50,322.58 L311.00,322.50 L311.50,322.42 L312.00,322.35 L312.50,322.27 L313.00,322.19 L313.50,322.12 L314.00,322.04 L314.50,321.96 L315.00,321.89 L315.50,321.81 L316.00,321.74 L316.50,321.66 L317.00,321.58 L317.50,321.51 L318.00,321.43 L318.50,321.36 L319.00,321.28 L319.50,321.21 L320.00,321.13 L320.50,321.06 L321.00,320.98 L321.50,320.91 L322.00,320.84 L322.50,320.76 L323.00,320.69 L323.50,320.61 L324.00,320.54 L324.50,320.47 L325.00,320.39 L325.50,320.32 L326.00,320.25 L326.50,320.18 L327.00,320.10 L327.50,320.03 L328.00,319.96 L328.50,319.89 L329.00,319.81 L329.50,319.74 L330.00,319.67 L330.50,319.60 L331.00,319.53 L331.50,319.46 L332.00,319.39 L332.50,319.32 L333.00,319.25 L333.50,319.17 L334.00,319.10 L334.50,319.03 L335.00,318.97 L335.50,318.90 L336.00,318.83 L336.50,318.76 L337.00,318.69 L337.50,318.62 L338.00,318.55 L338.50,318.48 L339.00,318.41 L339.50,318.35 L340.00,318.28 L340.50,318.21 L341.00,318.14 L341.50,318.08 L342.00,318.01 L342.50,317.94 L343.00,317.88 L343.50,317.81 L344.00,317.74 L344.50,317.68 L345.00,317.61 L345.50,317.55 L346.00,317.48 L346.50,317.41 L347.00,317.35 L347.50,317.28 L348.00,317.22 L348.50,317.16 L349.00,317.09 L349.50,317.03 L350.00,316.96 L350.50,316.90 L351.00,316.84 L351.50,316.77 L352.00,316.71 L352.50,316.65 L353.00,316.59 L353.50,316.53 L354.00,316.46 L354.50,316.40 L355.00,316.34 L355.50,316.28 L356.00,316.22 L356.50,316.16 L357.00,316.10 L357.50,316.04 L358.00,315.98 L358.50,315.92 L359.00,315.86 L359.50,315.80 L360.00,315.74 L360.50,315.68 L361.00,315.62 L361.50,315.56 L362.00,315.50 L362.50,315.45 L363.00,315.39 L363.50,315.33 L364.00,315.27 L364.50,315.22 L365.00,315.16 L365.50,315.10 L366.00,315.05 L366.50,314.99 L367.00,314.94 L367.50,314.88 L368.00,314.83 L368.50,314.77 L369.00,314.72 L369.50,314.66 L370.00,314.61 L370.50,314.55 L371.00,314.50 L371.50,314.45 L372.00,314.39 L372.50,314.34 L373.00,314.29 L373.50,314.24 L374.00,314.18 L374.50,314.13 L375.00,314.08 L375.50,314.03 L376.00,313.98 L376.50,313.93 L377.00,313.88 L377.50,313.83 L378.00,313.78 L378.50,313.73 L379.00,313.68 L379.50,313.63 L380.00,313.58 L380.50,313.53 L381.00,313.48 L381.50,313.43 L382.00,313.39 L382.50,313.34 L383.00,313.29 L383.50,313.25 L384.00,313.20 L384.50,313.15 L385.00,313.11 L385.50,313.06 L386.00,313.01 L386.50,312.97 L387.00,312.92 L387.50,312.88 L388.00,312.83 L388.50,312.79 L389.00,312.75 L389.50,312.70 L390.00,312.66 L390.50,312.62 L391.00,312.57 L391.50,312.53 L392.00,312.49 L392.50,312.45 L393.00,312.41 L393.50,312.36 L394.00,312.32 L394.50,312.28 L395.00,312.24 L395.50,312.20 L396.00,312.16 L396.50,312.12 L397.00,312.08 L397.50,312.04 L398.00,312.00 L398.50,311.97 L399.00,311.93 L399.50,311.89 L400.00,311.85 L400.50,311.82 L401.00,311.78 L401.50,311.74 L402.00,311.71 L402.50,311.67 L403.00,311.63 L403.50,311.60 L404.00,311.56 L404.50,311.53 L405.00,311.49 L405.50,311.46 L406.00,311.42 L406.50,311.39 L407.00,311.36 L407.50,311.32 L408.00,311.29 L408.50,311.26 L409.00,311.23 L409.50,311.19 L410.00,311.16 L410.50,311.13 L411.00,311.10 L411.50,311.07 L412.00,311.04 L412.50,311.01 L413.00,310.98 L413.50,310.95 L414.00,310.92 L414.50,310.89 L415.00,310.86 L415.50,310.83 L416.00,310.81 L416.50,310.78 L417.00,310.75 L417.50,310.72 L418.00,310.70 L418.50,310.67 L419.00,310.64 L419.50,310.62 L420.00,310.59 L420.50,310.57 L421.00,310.54 L421.50,310.52 L422.00,310.49 L422.50,310.47 L423.00,310.44 L423.50,310.42 L424.00,310.40 L424.50,310.37 L425.00,310.35 L425.50,310.33 L426.00,310.31 L426.50,310.29 L427.00,310.26 L427.50,310.24 L428.00,310.22 L428.50,310.20 L429.00,310.18 L429.50,310.16 L430.00,310.14 L430.50,310.12 L431.00,310.10 L431.50,310.08 L432.00,310.07 L432.50,310.05 L433.00,310.03 L433.50,310.01 L434.00,310.00 L434.50,309.98 L435.00,309.96 L435.50,309.95 L436.00,309.93 L436.50,309.91 L437.00,309.90 L437.50,309.88 L438.00,309.87 L438.50,309.85 L439.00,309.84 L439.50,309.83 L440.00,309.81 L440.50,309.80 L441.00,309.79 L441.50,309.77 L442.00,309.76 L442.50,309.75 L443.00,309.74 L443.50,309.73 L444.00,309.72 L444.50,309.70 L445.00,309.69 L445.50,309.68 L446.00,309.67 L446.50,309.66 L447.00,309.65 L447.50,309.65 L448.00,309.64 L448.50,309.63 L449.00,309.62 L449.50,309.61 L450.00,309.61 L450.50,309.60 L451.00,309.59 L451.50,309.58 L452.00,309.58 L452.50,309.57 L453.00,309.57 L453.50,309.56 L454.00,309.56 L454.50,309.55 L455.00,309.55 L455.50,309.54 L456.00,309.54 L456.50,309.53 L457.00,309.53 L457.50,309.53 L458.00,309.52 L458.50,309.52 L459.00,309.52 L459.50,309.52 L460.00,309.52 L460.50,309.51 L461.00,309.51 L461.50,309.51 L462.00,309.51 L462.50,309.51 L463.00,309.51 L463.50,309.51 L464.00,309.51 L464.50,309.51 L465.00,309.51 L465.50,309.52 L466.00,309.52 L466.50,309.52 L467.00,309.52 L467.50,309.52 L468.00,309.53 L468.50,309.53 L469.00,309.53 L469.50,309.54 L470.00,309.54 L470.50,309.55 L471.00,309.55 L471.50,309.56 L472.00,309.56 L472.50,309.57 L473.00,309.57 L473.50,309.58 L474.00,309.58 L474.50,309.59 L475.00,309.60 L475.50,309.60 L476.00,309.61 L476.50,309.62 L477.00,309.63 L477.50,309.64 L478.00,309.64 L478.50,309.65 L479.00,309.66 L479.50,309.67 L480.00,309.68 L480.50,309.69 L481.00,309.70 L481.50,309.71 L482.00,309.72 L482.50,309.73 L483.00,309.74 L483.50,309.75 L484.00,309.77 L484.50,309.78 L485.00,309.79 L485.50,309.80 L486.00,309.81 L486.50,309.83 L487.00,309.84 L487.50,309.85 L488.00,309.87 L488.50,309.88 L489.00,309.90 L489.50,309.91 L490.00,309.92 L490.50,309.94 L491.00,309.95 L491.50,309.97 L492.00,309.99 L492.50,310.00 L493.00,310.02 L493.50,310.03 L494.00,310.05 L494.50,310.07 L495.00,310.09 L495.50,310.10 L496.00,310.12 L496.50,310.14 L497.00,310.16 L497.50,310.18 L498.00,310.19 L498.50,310.21 L499.00,310.23 L499.50,310.25 L500.00,310.27 L500.50,310.29 L501.00,310.31 L501.50,310.33 L502.00,310.35 L502.50,310.37 L503.00,310.39 L503.50,310.42 L504.00,310.44 L504.50,310.46 L505.00,310.48 L505.50,310.50 L506.00,310.52 L506.50,310.55 L507.00,310.57 L507.50,310.59 L508.00,310.62 L508.50,310.64 L509.00,310.66 L509.50,310.69 L510.00,310.71 L510.50,310.74 L511.00,310.76 L511.50,310.79 L512.00,310.81 L512.50,310.84 L513.00,310.86 L513.50,310.89 L514.00,310.91 L514.50,310.94 L515.00,310.97 L515.50,310.99 L516.00,311.02 L516.50,311.05 L517.00,311.07 L517.50,311.10 L518.00,311.13 L518.50,311.16 L519.00,311.18 L519.50,311.21 L520.00,311.24 L520.50,311.27 L521.00,311.30 L521.50,311.33 L522.00,311.36 L522.50,311.39 L523.00,311.42 L523.50,311.45 L524.00,311.48 L524.50,311.51 L525.00,311.54 L525.50,311.57 L526.00,311.60 L526.50,311.63 L527.00,311.66 L527.50,311.69 L528.00,311.72 L528.50,311.75 L529.00,311.79 L529.50,311.82 L530.00,311.85 L530.50,311.88 L531.00,311.92 L531.50,311.95 L532.00,311.98 L532.50,312.02 L533.00,312.05 L533.50,312.08 L534.00,312.12 L534.50,312.15 L535.00,312.18 L535.50,312.22 L536.00,312.25 L536.50,312.29 L537.00,312.32 L537.50,312.36 L538.00,312.39 L538.50,312.43 L539.00,312.46 L539.50,312.50 L540.00,312.53 L540.50,312.57 L541.00,312.61 L541.50,312.64 L542.00,312.68 L542.50,312.71 L543.00,312.75 L543.50,312.79 L544.00,312.83 L544.50,312.86 L545.00,312.90 L545.50,312.94 L546.00,312.97 L546.50,313.01 L547.00,313.05 L547.50,313.09 L548.00,313.13 L548.50,313.16 L549.00,313.20 L549.50,313.24 L550.00,313.28 L550.50,313.32 L551.00,313.36 L551.50,313.40 L552.00,313.44 L552.50,313.48 L553.00,313.52 L553.50,313.56 L554.00,313.60 L554.50,313.64 L555.00,313.68 L555.50,313.72 L556.00,313.76 L556.50,313.80 L557.00,313.84 L557.50,313.88 L558.00,313.92 L558.50,313.96 L559.00,314.00 L559.50,314.04 L560.00,314.08 L560.50,314.13 L561.00,314.17 L561.50,314.21 L562.00,314.25 L562.50,314.29 L563.00,314.33 L563.50,314.38 L564.00,314.42 L564.50,314.46 L565.00,314.50 L565.50,314.55 L566.00,314.59 L566.50,314.63 L567.00,314.67 L567.50,314.72 L568.00,314.76 L568.50,314.80 L569.00,314.85 L569.50,314.89 L570.00,314.93 L570.50,314.98 L571.00,315.02 L571.50,315.07 L572.00,315.11 L572.50,315.15 L573.00,315.20 L573.50,315.24 L574.00,315.29 L574.50,315.33 L575.00,315.38 L575.50,315.42 L576.00,315.46 L576.50,315.51 L577.00,315.55 L577.50,315.60 L578.00,315.64 L578.50,315.69 L579.00,315.73 L579.50,315.78 L580.00,315.83 L580.50,315.87 L581.00,315.92 L581.50,315.96 L582.00,316.01 L582.50,316.05 L583.00,316.10 L583.50,316.14 L584.00,316.19 L584.50,316.24 L585.00,316.28 L585.50,316.33 L586.00,316.38 L586.50,316.42 L587.00,316.47 L587.50,316.51 L588.00,316.56 L588.50,316.61 L589.00,316.65 L589.50,316.70 L590.00,316.75 L590.50,316.79 L591.00,316.84 L591.50,316.89 L592.00,316.93 L592.50,316.98 L593.00,317.03 L593.50,317.08 L594.00,317.12 L594.50,317.17 L595.00,317.22 L595.50,317.26 L596.00,317.31 L596.50,317.36 L597.00,317.41 L597.50,317.45 L598.00,317.50 L598.50,317.55 L599.00,317.60 L599.50,317.65 L600.00,317.69 L600.50,317.74 L601.00,317.79 L601.50,317.84 L602.00,317.88 L602.50,317.93 L603.00,317.98 L603.50,318.03 L604.00,318.08 L604.50,318.12 L605.00,318.17 L605.50,318.22 L606.00,318.27 L606.50,318.32 L607.00,318.36 L607.50,318.41 L608.00,318.46 L608.50,318.51 L609.00,318.56 L609.50,318.61 L610.00,318.65 L610.50,318.70 L611.00,318.75 L611.50,318.80 L612.00,318.85 L612.50,318.90 L613.00,318.94 L613.50,318.99 L614.00,319.04 L614.50,319.09 L615.00,319.14 L615.50,319.19 L616.00,319.24 L616.50,319.28 L617.00,319.33 L617.50,319.38 L618.00,319.43 L618.50,319.48 L619.00,319.53 L619.50,319.58 L620.00,319.62 L620.50,319.67 L621.00,319.72 L621.50,319.77 L622.00,319.82 L622.50,319.87 L623.00,319.92 L623.50,319.96 L624.00,320.01 L624.50,320.06 L625.00,320.11 L625.50,320.16 L626.00,320.21 L626.50,320.26 L627.00,320.30 L627.50,320.35 L628.00,320.40 L628.50,320.45 L629.00,320.50 L629.50,320.55 L630.00,320.60 L630.50,320.64 L631.00,320.69 L631.50,320.74 L632.00,320.79 L632.50,320.84 L633.00,320.89 L633.50,320.93 L634.00,320.98 L634.50,321.03 L635.00,321.08 L635.50,321.13 L636.00,321.18 L636.50,321.22 L637.00,321.27 L637.50,321.32 L638.00,321.37 L638.50,321.42 L639.00,321.47 L639.50,321.51 L640.00,321.56 L640.50,321.61 L641.00,321.66 L641.50,321.71 L642.00,321.75 L642.50,321.80 L643.00,321.85 L643.50,321.90 L644.00,321.95 L644.50,321.99 L645.00,322.04 L645.50,322.09 L646.00,322.14 L646.50,322.18 L647.00,322.23 L647.50,322.28 L648.00,322.33 L648.50,322.38 L649.00,322.42 L649.50,322.47 L650.00,322.52 L650.50,322.57 L651.00,322.61 L651.50,322.66 L652.00,322.71 L652.50,322.75 L653.00,322.80 L653.50,322.85 L654.00,322.90 L654.50,322.94 L655.00,322.99 L655.50,323.04 L656.00,323.08 L656.50,323.13 L657.00,323.18 L657.50,323.23 L658.00,323.27 L658.50,323.32 L659.00,323.37 L659.50,323.41 L660.00,323.46 L660.50,323.50 L661.00,323.55 L661.50,323.60 L662.00,323.64 L662.50,323.69 L663.00,323.74 L663.50,323.78 L664.00,323.83 L664.50,323.88 L665.00,323.92 L665.50,323.97 L666.00,324.01 L666.50,324.06 L667.00,324.10 L667.50,324.15 L668.00,324.20 L668.50,324.24 L669.00,324.29 L669.50,324.33 L670.00,324.38 L670.50,324.42 L671.00,324.47 L671.50,324.51 L672.00,324.56 L672.50,324.60 L673.00,324.65 L673.50,324.69 L674.00,324.74 L674.50,324.78 L675.00,324.83 L675.50,324.87 L676.00,324.92 L676.50,324.96 L677.00,325.01 L677.50,325.05 L678.00,325.10 L678.50,325.14 L679.00,325.19 L679.50,325.23 L680.00,325.27 L680.50,325.32 L681.00,325.36 L681.50,325.41 L682.00,325.45 L682.50,325.49 L683.00,325.54 L683.50,325.58 L684.00,325.62 L684.50,325.67 L685.00,325.71 L685.50,325.75 L686.00,325.80 L686.50,325.84 L687.00,325.88 L687.50,325.93 L688.00,325.97 L688.50,326.01 L689.00,326.06 L689.50,326.10 L690.00,326.14 L690.50,326.18 L691.00,326.23 L691.50,326.27 L692.00,326.31 L692.50,326.35 L693.00,326.39 L693.50,326.44 L694.00,326.48 L694.50,326.52 L695.00,326.56 L695.50,326.60 L696.00,326.65 L696.50,326.69 L697.00,326.73 L697.50,326.77 L698.00,326.81 L698.50,326.85 L699.00,326.89 L699.50,326.94 L700.00,326.98 L700.50,327.02 L701.00,327.06 L701.50,327.10 L702.00,327.14 L702.50,327.18 L703.00,327.22 L703.50,327.26 L704.00,327.30 L704.50,327.34 L705.00,327.38 L705.50,327.42 L706.00,327.46 L706.50,327.50 L707.00,327.54 L707.50,327.58 L708.00,327.62 L708.50,327.66 L709.00,327.70 L709.50,327.74 L710.00,327.78 L710.50,327.82 L711.00,327.86 L711.50,327.90 L712.00,327.93 L712.50,327.97 L713.00,328.01 L713.50,328.05 L714.00,328.09 L714.50,328.13 L715.00,328.17 L715.50,328.20 L716.00,328.24 L716.50,328.28 L717.00,328.32 L717.50,328.36 L718.00,328.39 L718.50,328.43 L719.00,328.47 L719.50,328.51 L720.00,328.54 L720.50,328.58 L721.00,328.62 L721.50,328.66 L722.00,328.69 L722.50,328.73 L723.00,328.77 L723.50,328.80 L724.00,328.84 L724.50,328.88 L725.00,328.91 L725.50,328.95 L726.00,328.99 L726.50,329.02 L727.00,329.06 L727.50,329.09 L728.00,329.13" fill="none" stroke="#ff0000" stroke-width="1.1" clip-path="url(#below)"/></g>
<g clip-path="url(#plot)"><path d="M41.41,359.21 L44.00,359.21 L46.60,359.21 L49.19,359.21 L51.78,359.21 L54.37,359.21 L56.96,359.21 L59.56,359.21 L62.15,359.21 L64.74,359.21 L67.33,359.21 L69.92,359.21 L72.52,359.21 L75.11,359.21 L77.70,359.21 L80.29,359.21 L82.88,359.21 L85.48,359.21 L88.07,359.21 L90.66,359.21 L93.25,359.21 L95.84,359.21 L98.44,359.21 L101.03,359.21 L103.62,359.21 L106.21,359.21 L108.80,359.21 L111.40,359.21 L113.99,359.21 L116.58,359.21 L119.17,359.21 L121.76,359.21 L124.36,359.21 L126.95,359.21 L129.54,359.21 L132.13,359.21 L134.72,359.21 L137.32,359.21 L139.91,359.21 L142.50,359.21 L145.09,359.21 L147.68,359.21 L150.28,359.20 L152.87,359.20 L155.46,359.20 L158.05,359.20 L160.64,359.20 L163.24,359.20 L165.83,359.20 L168.42,359.19 L171.01,359.19 L173.60,359.19 L176.20,359.19 L178.79,359.18 L181.38,359.18 L183.97,359.17 L186.56,359.17 L189.16,359.16 L191.75,359.15 L194.34,359.14 L196.93,359.13 L199.52,359.12 L202.12,359.10 L204.71,359.09 L207.30,359.07 L209.89,359.05 L212.48,359.02 L215.08,358.99 L217.67,358.96 L220.26,358.93 L222.85,358.89 L225.44,358.84 L228.04,358.79 L230.63,358.73 L233.22,358.67 L235.81,358.59 L238.40,358.51 L241.00,358.42 L243.59,358.31 L246.18,358.20 L248.77,358.07 L251.36,357.93 L253.96,357.76 L256.55,357.59 L259.14,357.39 L261.73,357.17 L264.32,356.92 L266.92,356.66 L269.51,356.36 L272.10,356.03 L274.69,355.67 L277.28,355.27 L279.88,354.83 L282.47,354.35 L285.06,353.83 L287.65,353.25 L290.24,352.62 L292.84,351.93 L295.43,351.18 L298.02,350.36 L300.61,349.48 L303.20,348.51 L305.80,347.46 L308.39,346.33 L310.98,345.10 L313.57,343.77 L316.16,342.34 L318.76,340.79 L321.35,339.12 L323.94,337.33 L326.53,335.41 L329.12,333.34 L331.72,331.12 L334.31,328.75 L336.90,326.22 L339.49,323.51 L342.08,320.62 L344.68,317.54 L347.27,314.26 L349.86,310.77 L352.45,307.07 L355.04,303.14 L357.64,298.98 L360.23,294.57 L362.82,289.91 L365.41,284.99 L368.00,279.80 L370.60,274.34 L373.19,268.58 L375.78,262.52 L378.37,256.16 L380.96,249.49 L383.56,242.49 L386.15,235.17 L388.74,227.50 L391.33,219.49 L393.92,211.13 L396.52,202.41 L399.11,193.32 L401.70,183.87 L404.29,174.03 L406.88,163.81 L409.48,153.20 L412.07,142.21 L414.66,130.81 L417.25,119.02 L419.84,106.82 L422.44,94.22 L425.03,81.22 L427.62,67.80 L430.21,53.98 L432.80,40.24 L435.40,41.02 L437.99,54.18 L440.58,67.21 L443.17,79.83 L445.76,92.05 L448.36,103.86 L450.95,115.29 L453.54,126.32 L456.13,136.96 L458.72,147.21 L461.32,157.09 L463.91,166.60 L466.50,175.74 L469.09,184.51 L471.68,192.94 L474.28,201.01 L476.87,208.75 L479.46,216.15 L482.05,223.22 L484.64,229.98 L487.24,236.44 L489.83,242.59 L492.42,248.44 L495.01,254.02 L497.60,259.32 L500.20,264.35 L502.79,269.13 L505.38,273.65 L507.97,277.94 L510.56,281.99 L513.16,285.83 L515.75,289.45 L518.34,292.86 L520.93,296.08 L523.52,299.11 L526.12,301.96 L528.71,304.63 L531.30,307.14 L533.89,309.50 L536.48,311.70 L539.08,313.77 L541.67,315.70 L544.26,317.50 L546.85,319.18 L549.44,320.75 L552.04,322.21 L554.63,323.56 L557.22,324.83 L559.81,326.00 L562.40,327.08 L565.00,328.09 L567.59,329.02 L570.18,329.88 L572.77,330.67 L575.36,331.40 L577.96,332.08 L580.55,332.70 L583.14,333.27 L585.73,333.80 L588.32,334.28 L590.92,334.72 L593.51,335.12 L596.10,335.49 L598.69,335.83 L601.28,336.14 L603.88,336.42 L606.47,336.68 L609.06,336.91 L611.65,337.13 L614.24,337.32 L616.84,337.49 L619.43,337.65 L622.02,337.80 L624.61,337.93 L627.20,338.04 L629.80,338.15 L632.39,338.25 L634.98,338.33 L637.57,338.41 L640.16,338.48 L642.76,338.54 L645.35,338.60 L647.94,338.65 L650.53,338.69 L653.12,338.73 L655.72,338.77 L658.31,338.80 L660.90,338.83 L663.49,338.86 L666.08,338.88 L668.68,338.90 L671.27,338.92 L673.86,338.93 L676.45,338.95 L679.04,338.96 L681.64,338.97 L684.23,338.98 L686.82,338.99 L689.41,339.00 L692.00,339.00 L694.60,339.01 L697.19,339.01 L699.78,339.02 L702.37,339.02 L704.96,339.02 L707.56,339.03 L710.15,339.03 L712.74,339.03 L715.33,339.04 L717.92,339.04 L720.52,339.04 L723.11,339.04 L725.70,339.04 L728.29,339.04 L730.88,339.04 L733.48,339.04 L736.07,339.04 L738.66,339.04" fill="none" stroke="#3636c2" stroke-width="2.1" stroke-linejoin="round"/></g>
<circle cx="462.4" cy="309.5" r="3.9" fill="#ff0000" stroke="#000" stroke-width="1.3"/>
<text x="199.3" y="372" fill="#800080" text-anchor="middle">22.6%</text>
<text x="441.8" y="372" fill="#800080" text-anchor="middle">42.4%</text>
<text x="630.5" y="372" fill="#800080" text-anchor="middle">35.0%</text>
<text x="41" y="28.5" text-anchor="end" fill="#000">566%</text>
<text x="41" y="64.5" text-anchor="end" fill="#000">496%</text>
<text x="41" y="99.5" text-anchor="end" fill="#000">425%</text>
<text x="41" y="135.5" text-anchor="end" fill="#000">354%</text>
<text x="41" y="170.5" text-anchor="end" fill="#000">283%</text>
<text x="41" y="206.5" text-anchor="end" fill="#000">212%</text>
<text x="41" y="242.5" text-anchor="end" fill="#000">142%</text>
<text x="41" y="277.5" text-anchor="end" fill="#000">71%</text>
<text x="41" y="313.5" text-anchor="end" fill="#000">0%</text>
<text x="41" y="348.5" text-anchor="end" fill="#000">-71%</text>
<text x="41" y="384.5" text-anchor="end" fill="#000">-142%</text>
<text x="736" y="28.5" fill="#000">16,000</text>
<text x="736" y="64.5" fill="#000">14,000</text>
<text x="736" y="99.5" fill="#000">12,000</text>
<text x="736" y="135.5" fill="#000">10,000</text>
<text x="736" y="170.5" fill="#000">8,000</text>
<text x="736" y="206.5" fill="#000">6,000</text>
<text x="736" y="242.5" fill="#000">4,000</text>
<text x="736" y="277.5" fill="#000">2,000</text>
<text x="736" y="313.5" fill="#000">0</text>
<text x="736" y="348.5" fill="#000">-2,000</text>
<text x="736" y="384.5" fill="#000">-4,000</text>
<text x="61.5" y="18" text-anchor="middle" fill="#000">-8.1%</text>
<text x="126.5" y="18" text-anchor="middle" fill="#000">-6.7%</text>
<text x="191.5" y="18" text-anchor="middle" fill="#000">-5.3%</text>
<text x="255.5" y="18" text-anchor="middle" fill="#000">-3.8%</text>
<text x="320.5" y="18" text-anchor="middle" fill="#000">-2.4%</text>
<text x="385.5" y="18" text-anchor="middle" fill="#000">-1.0%</text>
<text x="450.5" y="18" text-anchor="middle" fill="#000">0.5%</text>
<text x="515.5" y="18" text-anchor="middle" fill="#000">1.9%</text>
<text x="579.5" y="18" text-anchor="middle" fill="#000">3.3%</text>
<text x="644.5" y="18" text-anchor="middle" fill="#000">4.8%</text>
<text x="709.5" y="18" text-anchor="middle" fill="#000">6.2%</text>
<text x="61.5" y="397" text-anchor="middle" fill="#000">6400</text>
<text x="126.5" y="397" text-anchor="middle" fill="#000">6500</text>
<text x="191.5" y="397" text-anchor="middle" fill="#000">6600</text>
<text x="255.5" y="397" text-anchor="middle" fill="#000">6700</text>
<text x="320.5" y="397" text-anchor="middle" fill="#000">6800</text>
<text x="385.5" y="397" text-anchor="middle" fill="#000">6900</text>
<text x="450.5" y="397" text-anchor="middle" fill="#000">7000</text>
<text x="515.5" y="397" text-anchor="middle" fill="#000">7100</text>
<text x="579.5" y="397" text-anchor="middle" fill="#000">7200</text>
<text x="644.5" y="397" text-anchor="middle" fill="#000">7300</text>
<text x="709.5" y="397" text-anchor="middle" fill="#000">7400</text>
<rect x="447.5" y="6.5" width="29" height="13" fill="#eaf0f8" stroke="#3e4e66" stroke-width="1"/>
<text x="462" y="18" text-anchor="middle" fill="#000">0.7%</text>
<rect x="-6.5" y="401.5" width="785" height="20" rx="5" fill="#e8eef8" stroke="#465a70" stroke-width="1"/>
<rect x="0" y="402" width="774" height="1" fill="#f3f7fc"/>
<path d="M438,410 L438,390.5 Q438,385.5 443,385.5 L481.5,385.5 Q486.5,385.5 486.5,390.5 L486.5,410 Z" fill="#ecf1fa" fill-opacity="0.85" stroke="#4e5e78" stroke-width="1"/>
<text x="462.7" y="397" text-anchor="middle" fill="#000">7018.84</text>
<rect x="-1" y="297.5" width="44.5" height="25" fill="#00ff00" stroke="#3e4e66" stroke-width="1"/>
<text x="41" y="309.2" text-anchor="end" fill="#000">+11%</text>
<rect x="-1" y="315.5" width="44.5" height="7" fill="#ff0000" stroke="#3e4e66" stroke-width="1"/>
<text x="41" y="321" text-anchor="end" fill="#000">-15%</text>
<rect x="0" y="302" width="43.5" height="13.7" fill="#cc0000"/>
<text x="41.5" y="314" text-anchor="end" fill="#fff">-1%</text>
<rect x="670.5" y="297.5" width="110" height="12.5" fill="#00ff00" stroke="#3e4e66" stroke-width="1"/>
<text x="673.5" y="308.5" fill="#000" letter-spacing="0.17" word-spacing="1">Profit Target 300</text>
<rect x="680.5" y="310.5" width="99" height="12" fill="#ff0000" stroke="#3e4e66" stroke-width="1"/>
<text x="683.3" y="320.5" fill="#000" letter-spacing="0.17" word-spacing="1">Max Loss -424</text>
<rect x="732.7" y="301.8" width="47.4" height="14" fill="#cc0000"/>
<text x="735.7" y="314" fill="#fff">-25</text>
<rect x="53.5" y="29.5" width="171" height="55.5" rx="5" fill="#edf2fa" fill-opacity="0.86" stroke="#627082" stroke-width="1.1"/>
<rect x="54.6" y="30.6" width="168.8" height="53.3" rx="4" fill="none" stroke="#fff" stroke-opacity="0.6" stroke-width="1"/>
<rect x="61" y="37" width="4" height="13" fill="#ff3333"/>
<rect x="61" y="51" width="4" height="13" fill="#7ea6e6"/>
<rect x="61" y="65" width="4" height="13" fill="#7ea6e6"/>
<text x="65.3" y="48" fill="#444" word-spacing="1">-5.20 Realized PnL</text>
<text x="65.3" y="62" fill="#444">+4</text><text x="81" y="62" fill="#4a4aff" word-spacing="1">12May 6975 Call Δ</text><text x="216.5" y="62" fill="#4a4aff" text-anchor="end">59.47</text>
<text x="65.3" y="76" fill="#444">-4</text><text x="78.5" y="76" fill="#ff4a4a" word-spacing="1">08May 6975 Call Δ</text><text x="214.5" y="76" fill="#ff4a4a" text-anchor="end">59.45</text>
<rect x="53.5" y="333.5" width="87.5" height="42" rx="5" fill="#e8eef8" fill-opacity="0.8" stroke="#627082" stroke-width="1.1"/>
<rect x="54.6" y="334.6" width="85.3" height="39.8" rx="4" fill="none" stroke="#fff" stroke-opacity="0.5" stroke-width="1"/>
<text x="61" y="352" fill="#6a6acc">5/8/2026 (0)</text>
<text x="61" y="366" fill="#7ea0e8">4/15/2026 (23)</text>
</svg></body></html>
